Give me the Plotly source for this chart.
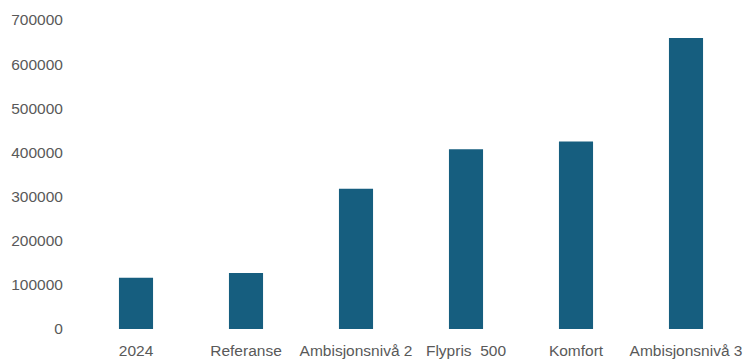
import plotly.graph_objects as go

categories = ["2024", "Referanse", "Ambisjonsnivå 2", "Flypris  500", "Komfort", "Ambisjonsnivå 3"]
values = [116000, 127000, 318000, 407000, 425000, 659000]
y_ticks = [0, 100000, 200000, 300000, 400000, 500000, 600000, 700000]

bar_color = "#165E7F"
text_color = "#595959"

fig = go.Figure(
    go.Bar(
        x=categories,
        y=values,
        width=0.31,
        marker=dict(color=bar_color, line=dict(width=0)),
    )
)

fig.update_layout(
    width=744,
    height=359,
    margin=dict(l=81, r=3, t=20, b=30),
    paper_bgcolor="white",
    plot_bgcolor="white",
    showlegend=False,
    font=dict(family="Liberation Sans, Arial, sans-serif", size=15.5, color=text_color),
)

fig.update_yaxes(
    range=[0, 700000],
    tickvals=y_ticks,
    ticktext=[str(v) for v in y_ticks],
    showgrid=False,
    zeroline=False,
    showline=False,
    ticks="outside",
    ticklen=14,
    tickcolor="white",
    automargin=False,
)
fig.update_xaxes(
    showgrid=False,
    showline=False,
    ticks="outside",
    ticklen=7,
    tickcolor="white",
    tickangle=0,
    automargin=False,
)

fig.write_html("out.html")
